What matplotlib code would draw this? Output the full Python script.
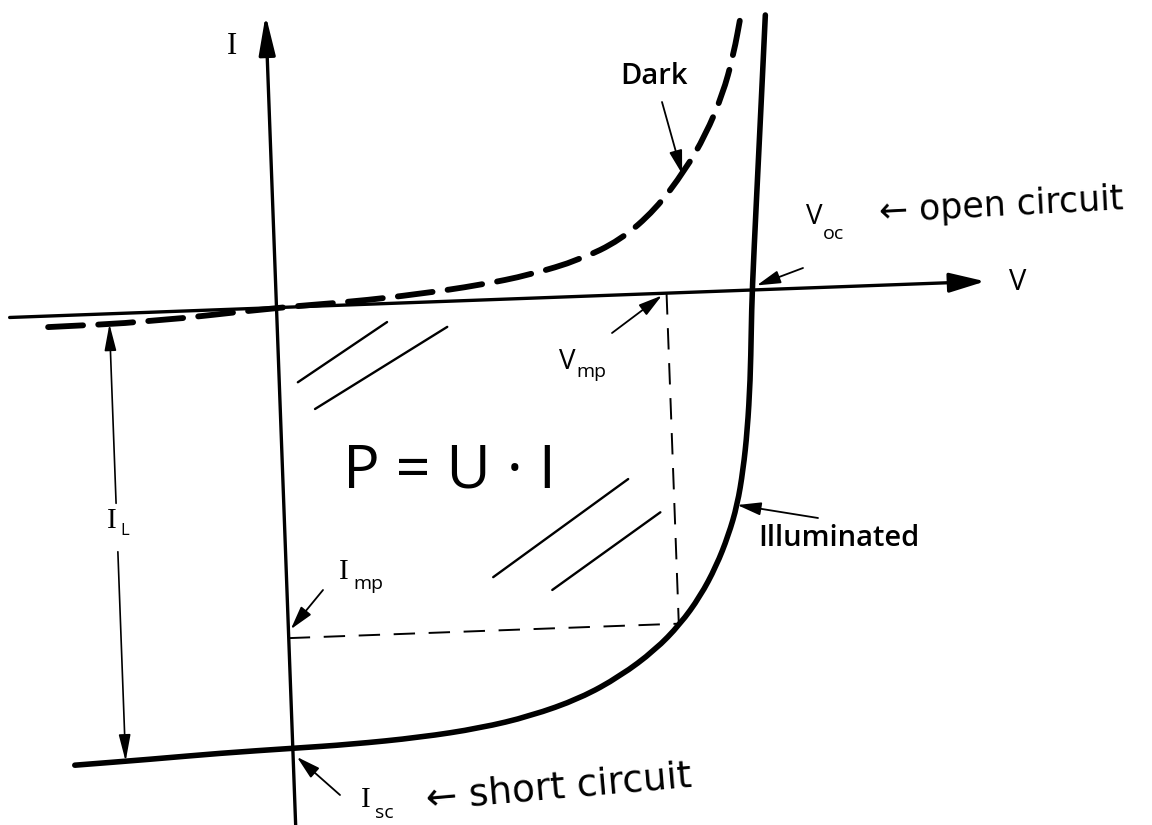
import numpy as np
import matplotlib
matplotlib.use("Agg")
import matplotlib.pyplot as plt
from matplotlib.path import Path
from matplotlib.patches import PathPatch
from matplotlib.transforms import Affine2D

# I-V characteristics, V normalised to V_oc and I normalised to I_sc
illum_v = [-0.459, -0.301, -0.153, 0.000, 0.121, 0.268, 0.395, 0.501, 0.607,
           0.693, 0.768, 0.823, 0.867, 0.903, 0.931, 0.952, 0.967, 0.979,
           0.989, 0.995, 1.000, 1.016, 1.034, 1.049]
illum_i = [-1.020, -1.013, -1.005, -1.000, -0.996, -0.986, -0.970, -0.947,
           -0.911, -0.864, -0.808, -0.751, -0.690, -0.623, -0.554, -0.486,
           -0.407, -0.317, -0.204, -0.091, 0.000, 0.204, 0.430, 0.622]

dark_v = [-0.481, -0.267, 0.000, 0.155, 0.302, 0.429, 0.535, 0.641, 0.727,
          0.803, 0.869, 0.914, 0.953, 0.979, 0.999]
dark_i = [-0.025, -0.022, 0.000, 0.0066, 0.019, 0.034, 0.053, 0.083, 0.124,
          0.190, 0.278, 0.355, 0.445, 0.534, 0.631]

# characteristic points
V_oc, I_sc = 1.0, -1.0
V_mp, I_mp = 0.82, -0.75
V_IL = -0.352          # where the light-generated current is measured

# axis extents
v_axis = (-0.561, 1.49)
i_axis = (-1.175, 0.664)

# hand hatching of the power rectangle (pairs of end points)
hatch_v = [(0.039, 0.231), (0.073, 0.357), (0.434, 0.725), (0.557, 0.790)]
hatch_i = [(-0.171, -0.042), (-0.233, -0.058), (-0.629, -0.418), (-0.663, -0.496)]

fig = plt.figure(figsize=(11.52, 8.25), dpi=100)
ax = fig.add_axes([0, 0, 1, 1])
ax.set_xlim(0, 1152)
ax.set_ylim(825, 0)
ax.axis("off")

# the sketch is drawn slightly tilted on the page
tilt = np.deg2rad(2.12)
sx, sy = 476.0, 441.0
frame = Affine2D.from_values(sx * np.cos(tilt), -sx * np.sin(tilt),
                             -sy * np.sin(tilt), -sy * np.cos(tilt),
                             276.5, 307.6) + ax.transData

K = "black"
SERIF = "Liberation Serif"
SANS = "Open Sans"
HAND = "DejaVu Sans"


def smooth_path(xs, ys):
    """Quadratic Bezier path running smoothly along the given points."""
    pts = np.column_stack([xs, ys])
    verts = [pts[0], (pts[0] + pts[1]) / 2]
    codes = [Path.MOVETO, Path.LINETO]
    for k in range(1, len(pts) - 1):
        verts += [pts[k], (pts[k] + pts[k + 1]) / 2]
        codes += [Path.CURVE3, Path.CURVE3]
    verts.append(pts[-1])
    codes.append(Path.LINETO)
    return Path(verts, codes)


def arrow(tip, tail, tip_coords, tail_coords, lw=1.3, hl=0.8, hw=0.22, ms=18):
    ax.annotate("", xy=tip, xytext=tail, xycoords=tip_coords,
                textcoords=tail_coords,
                arrowprops=dict(arrowstyle=f"-|>,head_length={hl},head_width={hw}",
                                lw=lw, color=K, mutation_scale=ms,
                                shrinkA=0, shrinkB=0))


# axes
arrow((v_axis[1], 0), (v_axis[0], 0), frame, frame, lw=2.4, hl=1.1, hw=0.3, ms=20)
arrow((0, i_axis[1]), (0, i_axis[0]), frame, frame, lw=2.4, hl=1.2, hw=0.25, ms=20)

# curves
ax.add_patch(PathPatch(smooth_path(illum_v, illum_i), transform=frame,
                       fill=False, edgecolor=K, lw=4.0,
                       capstyle="round", joinstyle="round"))
ax.add_patch(PathPatch(smooth_path(dark_v, dark_i), transform=frame,
                       fill=False, edgecolor=K, lw=4.2,
                       linestyle=(0, (6.0, 2.6)), capstyle="round"))

# maximum power rectangle
ax.plot([V_mp, V_mp], [0, I_mp], transform=frame, color=K, lw=1.4,
        linestyle=(0, (11, 7)))
ax.plot([0, V_mp], [I_mp, I_mp], transform=frame, color=K, lw=1.4,
        linestyle=(0, (11, 7)))

for hv, hi in zip(hatch_v, hatch_i):
    ax.plot(hv, hi, transform=frame, color=K, lw=1.7, solid_capstyle="round")

# light-generated current I_L, split around its label
il_top = np.interp(V_IL, dark_v, dark_i)
il_bot = np.interp(V_IL, illum_v, illum_i)
arrow((V_IL, il_top), (V_IL, -0.43), frame, frame, lw=1.2, hl=0.9, hw=0.2, ms=18)
arrow((V_IL, il_bot), (V_IL, -0.54), frame, frame, lw=1.2, hl=0.9, hw=0.2, ms=18)

# pointer arrows
d_tip = (0.862, np.interp(0.862, dark_v, dark_i))
arrow(d_tip, (662, 102), frame, ax.transData)
arrow((V_oc + 0.01, 0.01), (803, 268), frame, ax.transData)
arrow((V_mp - 0.01, -0.005), (612, 333), frame, ax.transData)
arrow((0.005, I_mp + 0.02), (323, 590), frame, ax.transData)
arrow((0.008, I_sc - 0.02), (340, 795), frame, ax.transData)
arrow((0.952, -0.486), (818, 518), frame, ax.transData)

# printed labels
ax.text(232, 46, "I", family=SERIF, fontsize=22, ha="center", va="center")
ax.text(1018, 283, "V", family=SANS, fontsize=21, ha="center", va="center")
ax.text(654, 77, "Dark", family=SANS, fontweight="semibold", fontsize=21,
        ha="center", va="center")
ax.text(839, 538, "Illuminated", family=SANS, fontweight="semibold",
        fontsize=21, ha="center", va="center")


def sub_label(x, y, main, sub, main_family, main_size=21, sub_size=14, dx=13, dy=11):
    ax.text(x, y, main, family=main_family, fontsize=main_size,
            ha="center", va="center")
    ax.text(x + dx, y + dy, sub, family=SANS, fontsize=sub_size,
            ha="left", va="center")


sub_label(112, 521, "I", "L", SERIF, dx=8, dy=10, sub_size=12)
sub_label(344, 572, "I", "mp", SERIF, dx=9, dy=12)
sub_label(366, 800, "I", "sc", SERIF, dx=9, dy=13)
sub_label(567, 362, "V", "mp", SANS, main_size=20, dx=9, dy=10)
sub_label(814, 217, "V", "oc", SANS, main_size=20, dx=9, dy=17)

# handwritten notes
ax.text(449, 471, "P = U · I", family=SANS, fontsize=44,
        ha="center", va="center")
ax.text(878, 206, "← open circuit", family=HAND, fontsize=25,
        ha="left", va="center", rotation=3)
ax.text(425, 788, "← short circuit", family=HAND, fontsize=27,
        ha="left", va="center", rotation=5)

fig.savefig("out.png", dpi=100, facecolor="white")
